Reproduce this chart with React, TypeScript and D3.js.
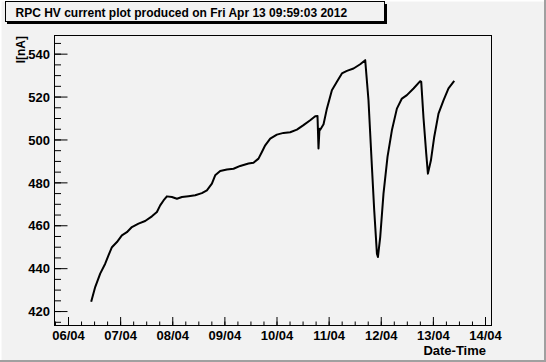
import React from "react";
import * as d3 from "d3";

// Time as fractional day-of-month (April 2012), current in nA
const timeDays = [
  6.435, 6.512, 6.608, 6.704, 6.767, 6.833, 6.929, 7.024, 7.12, 7.216, 7.343, 7.471, 7.6, 7.696,
  7.759, 7.823, 7.888, 7.984, 8.08, 8.176, 8.302, 8.431, 8.559, 8.655, 8.751, 8.814, 8.91, 9.039,
  9.166, 9.294, 9.453, 9.549, 9.645, 9.71, 9.774, 9.87, 9.998, 10.125, 10.253, 10.382, 10.508,
  10.637, 10.733, 10.777, 10.796, 10.815, 10.829, 10.893, 10.957, 11.053, 11.149, 11.245, 11.341,
  11.468, 11.596, 11.692, 11.755, 11.821, 11.865, 11.917, 11.936, 11.98, 12.043, 12.12, 12.204,
  12.3, 12.396, 12.492, 12.619, 12.747, 12.767, 12.811, 12.863, 12.895, 12.953, 13.016, 13.098,
  13.194, 13.29, 13.4,
];
const currentValues = [
  424.6, 431.4, 437.7, 442.3, 446.2, 450.0, 452.4, 455.5, 457.0, 459.4, 461.0, 462.2, 464.4, 466.4,
  469.5, 471.8, 473.7, 473.4, 472.6, 473.4, 473.8, 474.2, 475.2, 476.5, 479.6, 483.5, 485.5, 486.2,
  486.6, 487.9, 489.0, 489.4, 491.3, 494.4, 497.5, 500.6, 502.5, 503.3, 503.6, 504.8, 506.9,
  509.2, 511.1, 511.2, 496.0, 505.2, 504.8, 507.3, 514.6, 523.2, 527.1, 531.0, 532.2,
  533.3, 535.3, 537.2, 518.5, 487.4, 467.2, 447.0, 445.4, 454.7, 475.0, 492.1, 504.5,
  514.6, 519.3, 520.9, 524.0, 527.4, 527.1, 510.1, 493.6, 484.3, 490.5, 501.4, 512.3,
  518.5, 524.0, 527.5,
];
const yMajorTicks = [420, 440, 460, 480, 500, 520, 540];
const xTickLabels = ["06/04", "07/04", "08/04", "09/04", "10/04", "11/04", "12/04", "13/04", "14/04"];

const titleText = "RPC HV current plot produced on Fri Apr 13 09:59:03 2012";
const yLabel = "I[nA]";
const xLabel = "Date-Time";

const W = 546;
const H = 362;
const FONT = "'Liberation Sans', Arial, Helvetica, sans-serif";

const dayToDate = (d: number) => new Date(Date.UTC(2012, 3, 1) + (d - 1) * 864e5);

export default function App() {
  const left = 54.5;
  const right = 491.5;
  const top = 35.5;
  const bottom = 325.5;

  const x = d3
    .scaleUtc()
    .domain([dayToDate(6 - 0.2686), dayToDate(14 + 0.115)])
    .range([left, right]);
  const y = d3.scaleLinear().domain([413.5, 548.7]).range([bottom, top]);

  const data = timeDays.map((d, i) => ({ t: dayToDate(d), v: currentValues[i] }));
  const line = d3
    .line<{ t: Date; v: number }>()
    .x((d) => x(d.t))
    .y((d) => y(d.v));

  const [d0, d1] = x.domain();
  const majorX = d3.utcDay.range(d0, d1);
  const minorX = d3.utcHour.every(6)!.range(d0, d1);
  const minorY = d3.range(415, 549, 5);

  return (
    <svg
      width={W}
      height={H}
      style={{ position: "absolute", left: 0, top: 0, display: "block" }}
      fontFamily={FONT}
    >
      <rect x={0} y={0} width={W} height={H} fill="#f2f2f2" />
      {/* canvas bevel */}
      <rect x={0} y={0} width={W} height={1.5} fill="#ffffff" />
      <rect x={0} y={0} width={1.5} height={H} fill="#ffffff" />
      <rect x={W - 2} y={0} width={2} height={H} fill="#a0a0a0" />
      <rect x={0} y={H - 2} width={W} height={2} fill="#a0a0a0" />

      {/* title box */}
      <rect x={7} y={4} width={380} height={20} fill="#000" />
      <rect x={5.5} y={1.5} width={379} height={20} fill="#f2f2f2" stroke="#000" strokeWidth={1} />
      <text x={15.5} y={16.5} fontSize={12} fontWeight="bold" fill="#000">
        {titleText}
      </text>

      {/* frame */}
      <rect x={left} y={top} width={right - left} height={bottom - top} fill="none" stroke="#000" strokeWidth={1} />

      {/* x ticks */}
      {minorX.map((t, i) => (
        <line key={"mx" + i} x1={x(t)} x2={x(t)} y1={bottom} y2={bottom - 4} stroke="#000" strokeWidth={1} />
      ))}
      {majorX.map((t, i) => (
        <line key={"Mx" + i} x1={x(t)} x2={x(t)} y1={bottom} y2={bottom - 8.5} stroke="#000" strokeWidth={1} />
      ))}
      {majorX.map((t, i) => (
        <text
          key={"lx" + i}
          x={x(t)}
          y={339.5}
          fontSize={13}
          fontWeight="bold"
          textAnchor="middle"
          fill="#000"
        >
          {xTickLabels[i] ?? d3.utcFormat("%d/%m")(t)}
        </text>
      ))}
      <text x={486} y={355} fontSize={13} fontWeight="bold" textAnchor="end" fill="#000">
        {xLabel}
      </text>

      {/* y ticks */}
      {minorY.map((v, i) => (
        <line key={"my" + i} x1={left} x2={left + 6.5} y1={y(v)} y2={y(v)} stroke="#000" strokeWidth={1} />
      ))}
      {yMajorTicks.map((v, i) => (
        <line key={"My" + i} x1={left} x2={left + 13} y1={y(v)} y2={y(v)} stroke="#000" strokeWidth={1} />
      ))}
      {yMajorTicks.map((v, i) => (
        <text
          key={"ly" + i}
          x={50}
          y={y(v)}
          dy="0.36em"
          fontSize={13}
          fontWeight="bold"
          textAnchor="end"
          fill="#000"
        >
          {v}
        </text>
      ))}
      <text
        transform={`translate(25,36) rotate(-90)`}
        fontSize={12}
        fontWeight="bold"
        textAnchor="end"
        fill="#000"
      >
        {yLabel}
      </text>

      {/* data */}
      <path d={line(data) ?? ""} fill="none" stroke="#000" strokeWidth={2} strokeLinejoin="round" />
    </svg>
  );
}
